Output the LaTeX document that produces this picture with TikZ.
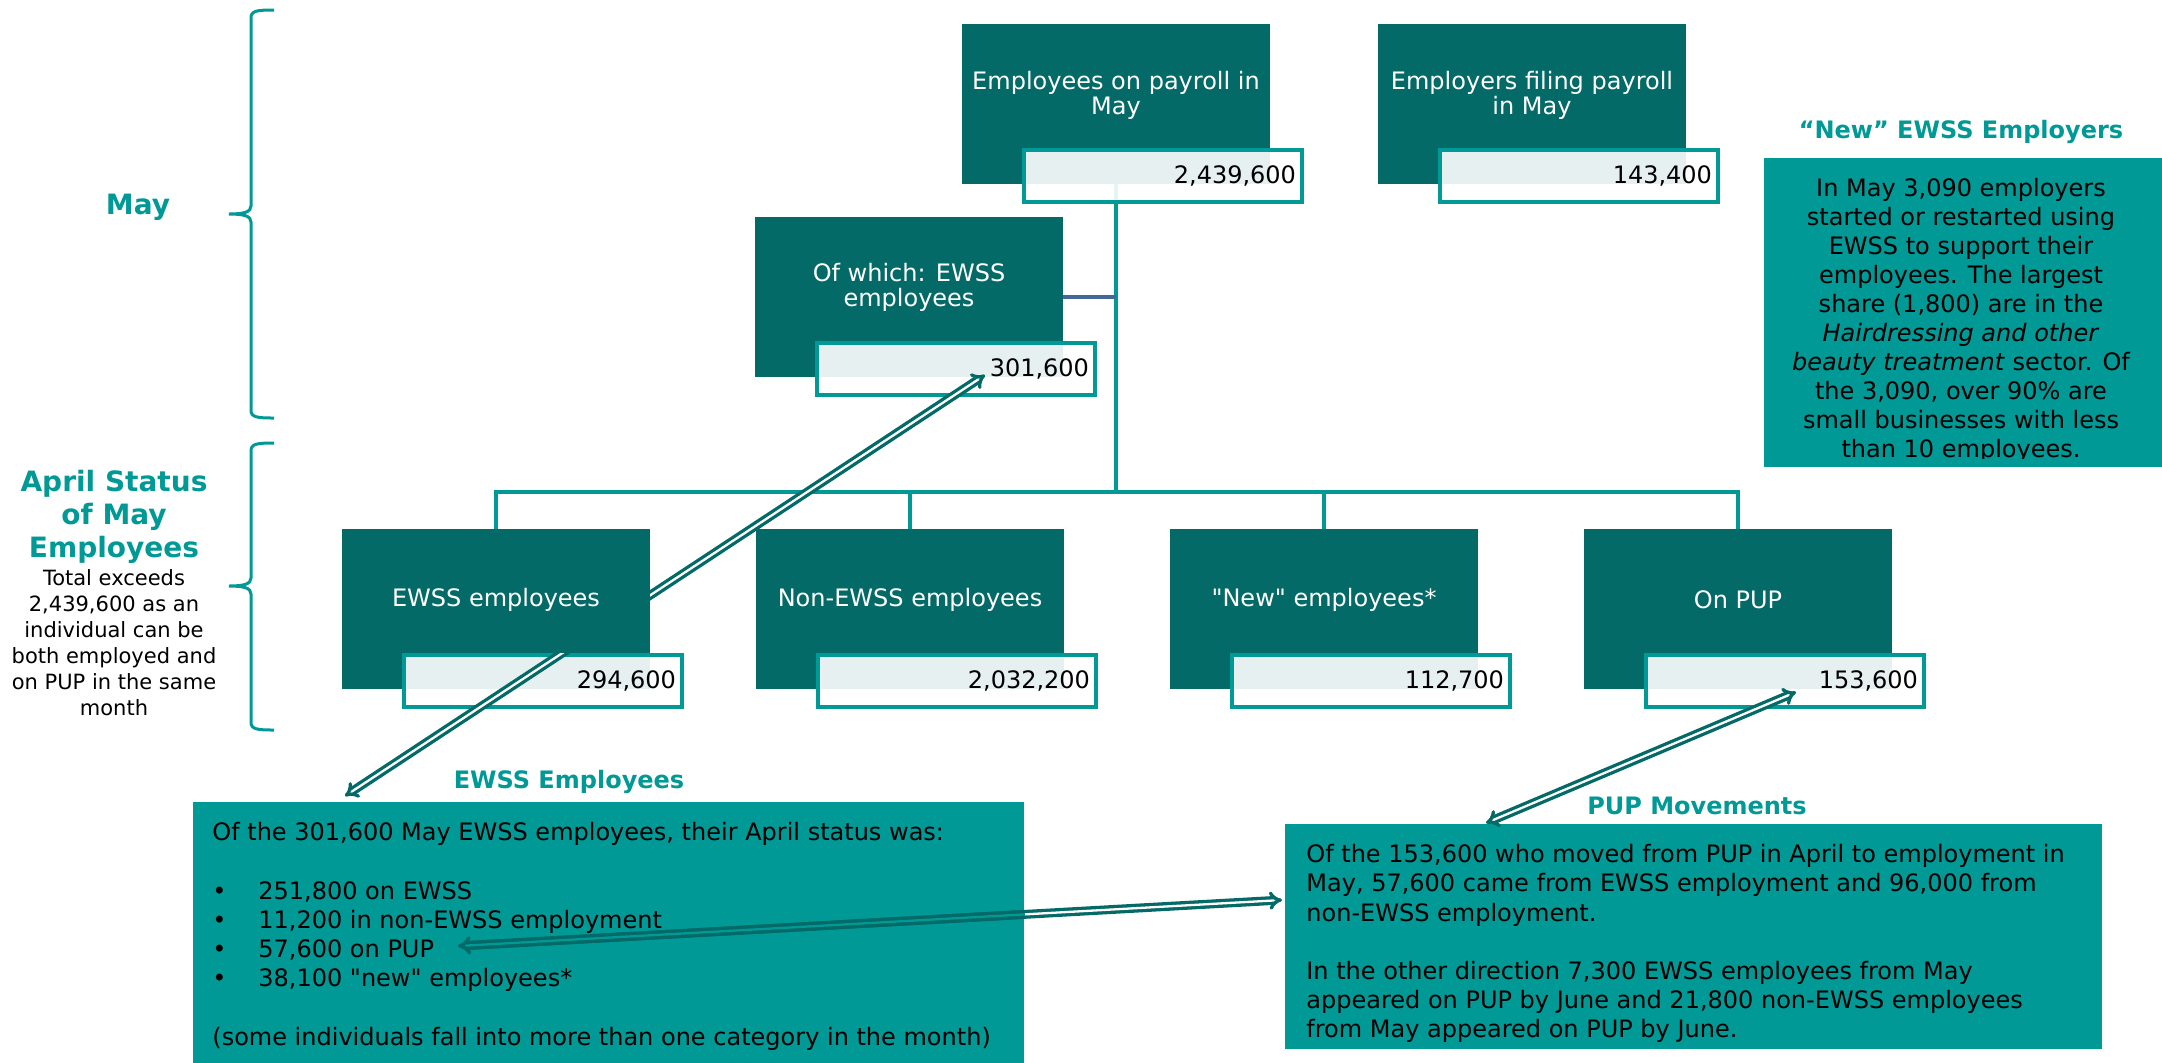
\documentclass[tikz,border=0pt]{standalone}
\usepackage{fontspec}
\setmainfont{DejaVu Sans}[Ligatures=TeXOff]
\usetikzlibrary{arrows.meta,backgrounds}

\definecolor{darkteal}{RGB}{3,106,103}
\definecolor{ewssteal}{RGB}{0,153,150}
\definecolor{linkblue}{RGB}{68,104,152}

\tikzset{
  darkbox/.style={fill=darkteal, minimum width=154pt, minimum height=80pt, inner sep=0pt},
  boxtitle/.style={text=white, align=center, inner sep=0pt, font=\fontsize{12}{12.5}\selectfont},
  valbox/.style={draw=ewssteal, line width=2pt, fill=white, fill opacity=0.9, text opacity=1,
    minimum width=139pt, minimum height=26pt, text width=133pt, inner xsep=3pt, align=right,
    font=\fontsize{12}{14}\selectfont},
  infobox/.style={fill=ewssteal, anchor=north west, inner sep=0pt},
  infotext/.style={inner sep=0pt, font=\fontsize{12}{14.6}\selectfont},
  heading/.style={text=ewssteal, align=center, font=\fontsize{12}{14}\selectfont\bfseries},
  tree/.style={draw=ewssteal, line width=1.75pt},
  link/.style={draw=linkblue, line width=2pt},
  dblarrow/.style={draw=darkteal, line width=1.65pt, double=white, double distance=1.15pt, Implies-Implies},
  brace/.style={draw=ewssteal, line width=1.5pt},
}

\begin{document}
\begin{tikzpicture}[x=0.5pt, y=-0.5pt]
  \useasboundingbox (0,0) rectangle (2162,1062);

  % left side
  \foreach \ya/\ym/\yb in {10/214/418, 443/586/730}
    \draw[brace] (274,\ya) .. controls (256,\ya) and (251,\ya+1) .. (251,\ya+8) -- (251,\ym-8)
      .. controls (251,\ym-2) and (244,\ym) .. (229,\ym) .. controls (244,\ym) and (251,\ym+2) .. (251,\ym+8)
      -- (251,\yb-8) .. controls (251,\yb-1) and (256,\yb) .. (274,\yb);
  \node[heading, font=\fontsize{14}{16}\selectfont\bfseries] (may) at (138,207) {May};
  \node[heading, font=\fontsize{14}{16.5}\selectfont\bfseries] (aprilhead) at (114,517) {April Status\\of May\\Employees};
  \node[align=center, font=\fontsize{10.5}{13}\selectfont] (aprilnote) at (114,643)
    {Total exceeds\\2,439,600 as an\\individual can be\\both employed and\\on PUP in the same\\month};

  % May boxes
  \node[darkbox] (payroll) at (1116,104) {};
  \node[boxtitle] (payroll-t) at ([yshift=4.5pt]payroll.center) {Employees on payroll in\\May};
  \node[valbox] (payroll-v) at ([shift={(47,72)}]payroll.center) {2,439,600};

  \node[darkbox] (employers) at (1532,104) {};
  \node[boxtitle] (employers-t) at ([yshift=4.5pt]employers.center) {Employers filing payroll\\in May};
  \node[valbox] (employers-v) at ([shift={(47,72)}]employers.center) {143,400};

  \node[darkbox] (ofwhich) at (909,297) {};
  \node[boxtitle] (ofwhich-t) at ([yshift=5pt]ofwhich.center) {Of which: EWSS\\employees};
  \node[valbox] (ofwhich-v) at ([shift={(47,72)}]ofwhich.center) {301,600};

  % April status boxes
  \node[darkbox] (ewss) at (496,609) {};
  \node[boxtitle] (ewss-t) at ([yshift=4.5pt]ewss.center) {EWSS employees};
  \node[valbox] (ewss-v) at ([shift={(47,72)}]ewss.center) {294,600};

  \node[darkbox] (nonewss) at (910,609) {};
  \node[boxtitle] (nonewss-t) at ([yshift=4.5pt]nonewss.center) {Non-EWSS employees};
  \node[valbox] (nonewss-v) at ([shift={(47,72)}]nonewss.center) {2,032,200};

  \node[darkbox] (newemp) at (1324,609) {};
  \node[boxtitle] (newemp-t) at ([yshift=4.5pt]newemp.center) {"New" employees*};
  \node[valbox] (newemp-v) at ([shift={(47,72)}]newemp.center) {112,700};

  \node[darkbox] (onpup) at (1738,609) {};
  \node[boxtitle] (onpup-t) at ([yshift=4.5pt]onpup.center) {On PUP};
  \node[valbox] (onpup-v) at ([shift={(47,72)}]onpup.center) {153,600};

  % tree
  \coordinate (hub) at (1116,492);
  \begin{pgfonlayer}{background}
    \draw[tree] (payroll.south) -- (hub);
    \draw[tree] (ewss.north) |- (hub) -| (onpup.north);
    \draw[tree] (nonewss.north) -- (nonewss.north |- hub);
    \draw[tree] (newemp.north) -- (newemp.north |- hub);
    \draw[link] (ofwhich.east) -- (ofwhich.east -| hub);
  \end{pgfonlayer}

  % notes
  \node[heading] (newhead) at (1961,132) {“New” EWSS Employers};
  \node[infobox, minimum width=200pt, minimum height=154.5pt] (newinfo) at (1764,158) {};
  \begin{scope}
    \clip (newinfo.north west) rectangle ([yshift=4.5pt]newinfo.south east);
    \node[infotext, anchor=north, align=center, font=\fontsize{12}{14.5}\selectfont] (newinfo-t) at (1961,178)
      {In May 3,090 employers\\started or restarted using\\EWSS to support their\\employees. The largest\\share (1,800) are in the\\\textit{Hairdressing and other}\\\textit{beauty treatment} sector. Of\\the 3,090, over 90\% are\\small businesses with less\\than 10 employees.};
  \end{scope}

  \node[heading] (ewsshead) at (569,782) {EWSS Employees};
  \node[infobox, minimum width=415.5pt, minimum height=135pt] (ewssinfo) at (193,802) {};
  \node[infotext, anchor=north west, align=left] (ewssinfo-t) at (212,822)
    {Of the 301,600 May EWSS employees, their April status was:\\ \mbox{}\\
     \makebox[23pt][l]{\textbullet}251,800 on EWSS\\
     \makebox[23pt][l]{\textbullet}11,200 in non-EWSS employment\\
     \makebox[23pt][l]{\textbullet}57,600 on PUP\\
     \makebox[23pt][l]{\textbullet}38,100 "new" employees*\\ \mbox{}\\
     (some individuals fall into more than one category in the month)};

  \node[heading] (puphead) at (1697,806) {PUP Movements};
  \node[infobox, minimum width=408.5pt, minimum height=112.5pt] (pupinfo) at (1285,824) {};
  \node[infotext, anchor=north west, align=left] (pupinfo-t) at (1306,844)
    {Of the 153,600 who moved from PUP in April to employment in\\May, 57,600 came from EWSS employment and 96,000 from\\non-EWSS employment.\\ \mbox{}\\
     In the other direction 7,300 EWSS employees from May\\appeared on PUP by June and 21,800 non-EWSS employees\\from May appeared on PUP by June.};

  % arrows
  \coordinate (ewssarrow-a) at (345,796);
  \coordinate (ewssarrow-b) at (985,375);
  \coordinate (puparrow-a) at (1486,823);
  \coordinate (puparrow-b) at (1796,692);
  \coordinate (linkarrow-a) at (458,946);
  \coordinate (linkarrow-b) at (1282,900);
  \begin{scope}
    \clip (0,0) -- (2162,0) -- (2162,1062) -- (0,1062) -- (0,653) -- (650,653) -- (650,529) -- (0,529) -- cycle;
    \draw[dblarrow] (ewssarrow-a) -- (ewssarrow-b);
  \end{scope}
  \draw[dblarrow] (puparrow-a) -- (puparrow-b);
  \draw[dblarrow] (linkarrow-a) -- (linkarrow-b);
  \begin{scope}
    \clip (ewssinfo.north west) rectangle (ewssinfo.south east);
    \draw[dblarrow, double=ewssteal] (linkarrow-a) -- (linkarrow-b);
  \end{scope}
\end{tikzpicture}
\end{document}
